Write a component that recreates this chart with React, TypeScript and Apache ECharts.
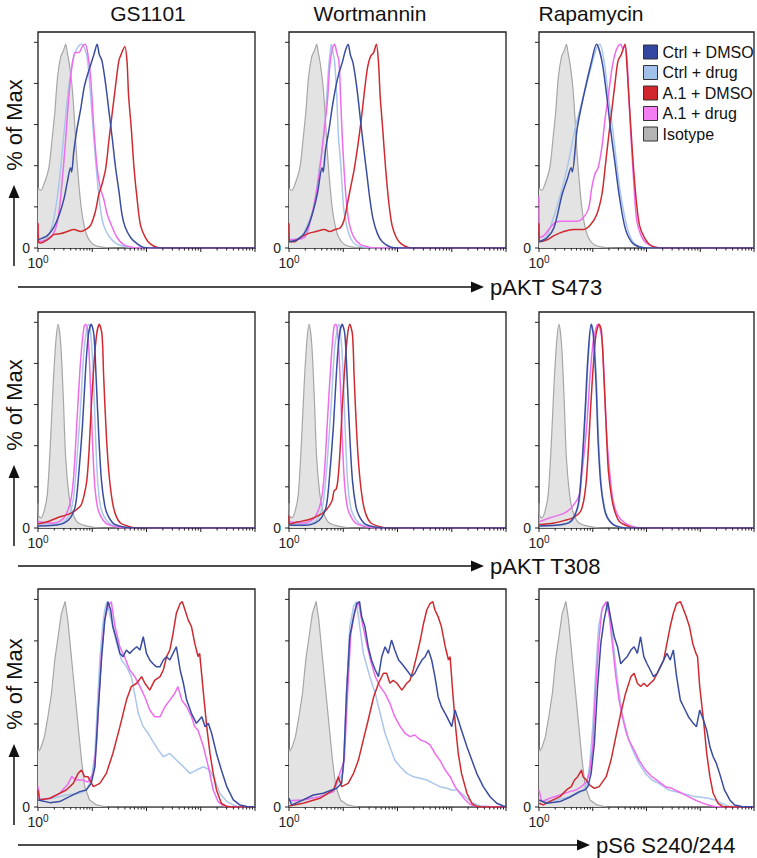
import React, { useEffect, useRef } from 'react';
import * as echarts from 'echarts';

// ---------- labels ----------
const COLUMN_TITLES = ['GS1101', 'Wortmannin', 'Rapamycin'];
const ROW_MARKERS = ['pAKT S473', 'pAKT T308', 'pS6 S240/244'];
const Y_AXIS_TITLE = '% of Max';
const LEGEND_ORDER = ['Ctrl + DMSO', 'Ctrl + drug', 'A.1 + DMSO', 'A.1 + drug', 'Isotype'];
const X_MAJOR_TICKS = [0, 1, 2, 3, 4]; // log10 decades, 10^0 .. 10^4
const Y_TICKS = [0, 20, 40, 60, 80, 100];

// ---------- data: [log10 fluorescence, % of max] ----------
// Row 1: pAKT S473
const S473_ISO = [[0,29],[0.05,28],[0.11,31],[0.2,39],[0.26,53],[0.31,66],[0.36,83],[0.42,93],[0.47,96],[0.51,99],[0.54,95],[0.58,89],[0.63,78],[0.67,63],[0.72,42],[0.79,21],[0.85,11],[0.92,5],[1.03,1.6],[1.21,0.3],[1.46,0],[4,0]];
const S473_GS_CTRL_DMSO = [[0,4],[0.17,6],[0.29,10],[0.39,16],[0.48,24],[0.54,32],[0.6,39],[0.62,37],[0.66,47],[0.72,58],[0.79,68],[0.85,78],[0.91,84],[0.97,89],[1.03,94],[1.09,99],[1.13,94],[1.18,91],[1.25,79],[1.31,66],[1.37,53],[1.43,39],[1.49,28],[1.55,16],[1.61,10],[1.71,5],[1.83,2],[1.95,0.3],[2.2,0],[4,0]];
const S473_GS_CTRL_DRUG = [[0,3],[0.17,5],[0.29,14],[0.39,32],[0.48,56],[0.54,72],[0.6,85],[0.66,93],[0.72,97],[0.8,99],[0.86,97],[0.91,92],[0.97,74],[1.03,53],[1.09,34],[1.15,19],[1.21,11],[1.31,5.7],[1.43,2.4],[1.58,0.8],[1.8,0.1],[4,0]];
const S473_GS_A1_DRUG = [[0,12],[0.02,3],[0.23,5],[0.36,13],[0.45,34],[0.51,53],[0.57,74],[0.63,89],[0.69,95],[0.75,95],[0.82,98],[0.87,99],[0.92,94],[0.97,83],[1.03,58],[1.09,39],[1.15,29],[1.21,24],[1.28,16],[1.37,10],[1.46,5],[1.58,1.6],[1.75,0.3],[2,0],[4,0]];
const S473_GS_A1_DMSO = [[0,12],[0.01,3],[0.05,2.4],[0.17,4],[0.29,6.5],[0.42,7],[0.54,8],[0.66,9],[0.79,8],[0.88,9],[0.97,11],[1.06,18],[1.12,26],[1.18,31],[1.25,39],[1.31,53],[1.37,66],[1.43,79],[1.49,91],[1.53,94],[1.6,98],[1.64,91],[1.67,74],[1.72,58],[1.77,39],[1.83,23],[1.89,11],[1.98,5],[2.07,2],[2.2,0.3],[2.4,0],[4,0]];
const S473_WO_CTRL_DMSO = [[0,3],[0.15,4],[0.28,7],[0.4,14],[0.52,26],[0.61,39],[0.63,37],[0.67,47],[0.74,58],[0.8,69],[0.86,78],[0.92,85],[0.98,90],[1.04,96],[1.09,99],[1.13,94],[1.18,90],[1.25,78],[1.31,64],[1.37,50],[1.43,37],[1.49,24],[1.55,14],[1.63,7],[1.72,3],[1.87,0.5],[2.1,0],[4,0]];
const S473_WO_CTRL_DRUG = [[0,4],[0.21,5],[0.37,13],[0.46,20],[0.55,37],[0.61,48],[0.67,64],[0.72,84],[0.75,93],[0.78,99],[0.81,95],[0.84,91],[0.88,74],[0.91,55],[0.95,42],[1.01,19],[1.07,10],[1.13,5],[1.23,1.6],[1.38,0.3],[1.6,0],[4,0]];
const S473_WO_A1_DRUG = [[0,4],[0.28,5],[0.4,14],[0.49,25],[0.57,39],[0.64,55],[0.71,72],[0.75,88],[0.8,97],[0.84,99],[0.88,95],[0.92,91],[0.95,74],[0.98,55],[1.02,36],[1.06,22],[1.11,12],[1.2,5],[1.32,1.6],[1.5,0.3],[1.7,0],[4,0]];
const S473_WO_A1_DMSO = [[0,12],[0.01,3],[0.1,3],[0.2,5],[0.35,7],[0.5,8],[0.65,9],[0.75,8],[0.85,9],[0.95,10],[1.02,14],[1.08,22],[1.14,30],[1.2,38],[1.27,50],[1.33,62],[1.39,76],[1.45,88],[1.5,93],[1.56,95],[1.61,99],[1.65,90],[1.68,74],[1.73,57],[1.78,39],[1.84,22],[1.9,11],[1.98,5],[2.07,2],[2.2,0.3],[2.4,0],[4,0]];
const S473_RA_CTRL_DMSO = [[0,3],[0.15,5],[0.28,10],[0.43,26],[0.52,33],[0.6,39],[0.62,37],[0.71,58],[0.83,74],[0.98,91],[1.07,99],[1.17,91],[1.26,74],[1.33,58],[1.41,42],[1.49,26],[1.6,10],[1.72,3],[1.87,0.5],[2.1,0],[4,0]];
const S473_RA_CTRL_DRUG = [[0,3],[0.12,5],[0.21,10],[0.4,26],[0.55,42],[0.67,58],[0.83,74],[1,91],[1.07,97],[1.13,99],[1.21,91],[1.29,74],[1.37,58],[1.44,42],[1.52,26],[1.64,10],[1.75,3],[1.9,0.5],[2.1,0],[4,0]];
const S473_RA_A1_DRUG = [[0,25],[0.01,5],[0.09,6],[0.28,12],[0.4,13],[0.52,13],[0.71,13],[0.83,15],[0.92,19],[0.98,29],[1.04,36],[1.1,39],[1.17,49],[1.23,63],[1.29,74],[1.35,86],[1.41,94],[1.47,98],[1.52,99],[1.56,97],[1.6,98],[1.64,91],[1.67,74],[1.72,50],[1.77,29],[1.82,13],[1.9,6],[1.99,2.4],[2.12,0.8],[2.3,0],[4,0]];
const S473_RA_A1_DMSO = [[0,12],[0.01,3],[0.15,4],[0.28,6],[0.46,8],[0.64,9],[0.83,9],[0.95,11],[1.07,16],[1.17,26],[1.23,39],[1.29,53],[1.35,66],[1.41,79],[1.47,91],[1.53,94],[1.6,99],[1.63,91],[1.69,66],[1.75,42],[1.81,23],[1.87,11],[1.96,5],[2.06,1.6],[2.18,0.3],[2.4,0],[4,0]];

// Row 2: pAKT T308
const T308_ISO = [[0,12],[0.01,6],[0.05,5],[0.11,8],[0.17,16],[0.23,42],[0.28,70],[0.33,91],[0.37,99],[0.42,89],[0.47,61],[0.51,34],[0.57,16],[0.63,8],[0.72,3],[0.85,1.3],[1.03,0.3],[1.2,0],[4,0]];
const T308_GS_CTRL_DMSO = [[0,1],[0.29,1.3],[0.48,2.4],[0.6,5],[0.69,11],[0.75,26],[0.82,50],[0.88,78],[0.93,94],[0.98,99],[1.03,94],[1.07,74],[1.12,45],[1.17,23],[1.23,11],[1.29,6],[1.4,2],[1.58,0.5],[1.8,0],[4,0]];
const T308_GS_CTRL_DRUG = [[0,2],[0.3,2],[0.48,3],[0.6,8],[0.66,16],[0.72,34],[0.79,61],[0.85,87],[0.91,98],[0.94,99],[0.98,92],[1.02,74],[1.06,45],[1.1,23],[1.15,11],[1.21,6],[1.31,2.4],[1.46,0.8],[1.7,0],[4,0]];
const T308_GS_A1_DRUG = [[0,3],[0.29,2.4],[0.48,5],[0.6,13],[0.66,26],[0.72,53],[0.79,83],[0.85,98],[0.88,99],[0.92,94],[0.96,74],[1,45],[1.04,23],[1.09,11],[1.15,6],[1.25,2.4],[1.4,0.8],[1.6,0],[4,0]];
const T308_GS_A1_DMSO = [[0,2],[0.17,3],[0.36,5],[0.54,6.5],[0.66,8],[0.79,11],[0.85,16],[0.9,23],[0.94,37],[0.98,58],[1.03,79],[1.08,94],[1.13,99],[1.18,94],[1.21,74],[1.26,45],[1.31,26],[1.37,13],[1.43,6.5],[1.52,2.4],[1.67,0.8],[1.83,0],[4,0]];
const T308_WO_CTRL_DMSO = [[0,1.5],[0.29,1.3],[0.48,2.4],[0.6,5],[0.69,11],[0.75,26],[0.82,50],[0.88,78],[0.93,94],[0.98,99],[1.03,94],[1.07,74],[1.12,45],[1.17,23],[1.23,11],[1.29,6],[1.4,2],[1.58,0.5],[1.8,0],[4,0]];
const T308_WO_CTRL_DRUG = [[0,2],[0.3,2],[0.47,3],[0.59,8],[0.65,16],[0.71,34],[0.78,61],[0.84,87],[0.9,98],[0.92,99],[0.96,92],[1,74],[1.04,45],[1.08,23],[1.13,11],[1.19,6],[1.29,2.4],[1.44,0.8],[1.7,0],[4,0]];
const T308_WO_A1_DRUG = [[0,3],[0.28,2.4],[0.47,5],[0.59,13],[0.65,26],[0.71,53],[0.78,83],[0.83,98],[0.86,99],[0.9,94],[0.94,74],[0.98,45],[1.02,23],[1.07,11],[1.13,6],[1.23,2.4],[1.38,0.8],[1.6,0],[4,0]];
const T308_WO_A1_DMSO = [[0,6],[0.01,2],[0.17,3],[0.36,4],[0.54,6],[0.66,8],[0.79,13],[0.83,18],[0.87,19],[0.9,23],[0.94,37],[0.98,58],[1.03,79],[1.08,94],[1.12,99],[1.17,94],[1.2,74],[1.25,45],[1.3,26],[1.36,13],[1.42,6.5],[1.51,2.4],[1.66,0.8],[1.83,0],[4,0]];
const T308_RA_CTRL_DMSO = [[0,1],[0.4,1.6],[0.58,3],[0.67,6.5],[0.74,13],[0.8,31],[0.86,58],[0.91,83],[0.97,99],[1.01,94],[1.06,71],[1.1,42],[1.15,21],[1.21,10],[1.27,5],[1.38,1.6],[1.53,0.3],[1.7,0],[4,0]];
const T308_RA_CTRL_DRUG = [[0,1],[0.4,1.6],[0.59,3],[0.68,6.5],[0.75,13],[0.81,31],[0.87,58],[0.92,83],[0.98,99],[1.02,94],[1.07,71],[1.11,42],[1.16,21],[1.22,10],[1.28,5],[1.39,1.6],[1.54,0.3],[1.7,0],[4,0]];
const T308_RA_A1_DRUG = [[0,3],[0.21,5],[0.4,6.5],[0.52,8],[0.64,11],[0.75,16],[0.78,23],[0.83,34],[0.89,50],[0.95,74],[1.01,91],[1.07,98],[1.1,99],[1.17,92],[1.21,74],[1.26,45],[1.32,26],[1.38,13],[1.47,6],[1.6,2.4],[1.81,0.3],[2,0],[4,0]];
const T308_RA_A1_DMSO = [[0,1.6],[0.28,2.4],[0.52,4],[0.64,5],[0.77,8],[0.83,13],[0.88,23],[0.92,39],[0.96,58],[1.01,79],[1.06,94],[1.12,99],[1.16,96],[1.2,78],[1.25,49],[1.29,28],[1.35,15],[1.41,8],[1.5,3],[1.66,0.8],[1.81,0],[4,0]];

// Row 3: pS6 S240/244
const S6_ISO = [[0,28],[0.02,27],[0.06,29],[0.12,34],[0.18,43],[0.25,55],[0.31,71],[0.37,82],[0.43,93],[0.5,99],[0.55,90],[0.62,71],[0.68,55],[0.74,39],[0.8,23],[0.86,10],[0.95,3.4],[1.08,1],[1.26,0],[4,0]];
const S6_GS_CTRL_DMSO = [[0,3.4],[0.22,2.1],[0.4,2.6],[0.58,5],[0.77,7.4],[0.89,8.2],[0.98,11.4],[1.05,19.4],[1.11,46.7],[1.17,70.8],[1.23,90],[1.29,98.9],[1.34,94.9],[1.38,86.8],[1.45,80.4],[1.51,74],[1.57,72.4],[1.63,75.6],[1.69,74],[1.75,75.6],[1.82,77.2],[1.88,75.6],[1.94,82],[2,74],[2.06,70.8],[2.12,69],[2.18,67.6],[2.25,67.6],[2.31,70.8],[2.37,72.4],[2.43,70.8],[2.49,74],[2.55,77.2],[2.62,66],[2.68,59.6],[2.74,51.5],[2.83,45],[2.92,40.3],[3.02,43.5],[3.08,38.7],[3.14,40.3],[3.2,35.5],[3.29,25.8],[3.38,17.8],[3.48,9.8],[3.6,3.4],[3.72,1],[3.85,0.2],[4,0]];
const S6_GS_CTRL_DRUG = [[0,4],[0.22,4],[0.52,5.8],[0.77,6.6],[0.89,8.2],[0.98,13],[1.05,25.8],[1.09,46.7],[1.14,70.8],[1.19,86.8],[1.23,94.9],[1.27,98.9],[1.32,93.3],[1.38,86.8],[1.45,78.8],[1.54,70.8],[1.63,67.6],[1.72,62.8],[1.78,54.7],[1.85,45],[1.94,38.7],[2.03,35.5],[2.12,31.5],[2.22,27.4],[2.31,24.2],[2.43,25.8],[2.55,22.6],[2.68,19.4],[2.8,16.2],[2.92,17.8],[3.05,19.4],[3.17,17.8],[3.26,13],[3.35,6.6],[3.48,2.6],[3.6,1],[3.72,0],[4,0]];
const S6_GS_A1_DRUG = [[0,10],[0.03,3.4],[0.22,4.2],[0.4,6.6],[0.55,11],[0.62,14.6],[0.71,13],[0.83,13],[0.92,12],[1.02,16.2],[1.08,30.7],[1.13,54.7],[1.17,74],[1.23,90],[1.29,96.5],[1.35,98.9],[1.42,86.8],[1.51,77],[1.6,72],[1.69,66],[1.78,63],[1.88,58],[1.97,53],[2.06,46.7],[2.15,43.5],[2.25,43.5],[2.34,48.3],[2.43,51.5],[2.52,54.7],[2.58,58],[2.65,51.5],[2.74,48.3],[2.83,43.5],[2.89,38.7],[2.95,37],[3.05,29],[3.14,19.4],[3.23,8.2],[3.32,2.6],[3.42,0.5],[3.6,0],[4,0]];
const S6_GS_A1_DMSO = [[0,8.2],[0.03,3.4],[0.22,4.2],[0.4,6.6],[0.52,8.2],[0.65,11.4],[0.74,16.2],[0.8,17.8],[0.86,14.6],[0.92,14.6],[1.02,9.8],[1.14,11.4],[1.26,16.2],[1.38,25.8],[1.51,38.7],[1.63,51.5],[1.72,58],[1.82,59.6],[1.91,62.8],[1.97,59.6],[2.06,56.3],[2.15,61],[2.25,62.8],[2.31,66],[2.37,72.4],[2.43,75.6],[2.49,83.6],[2.55,93.3],[2.62,98],[2.66,98.9],[2.71,94.9],[2.77,90],[2.83,86.8],[2.89,78.8],[2.95,72.4],[2.98,74],[3.05,54.7],[3.11,38.7],[3.17,25.8],[3.23,16.2],[3.29,8.2],[3.38,1.8],[3.48,0.2],[3.6,0],[4,0]];
const S6_WO_CTRL_DMSO = [[0,4.2],[0.05,1],[0.26,3.4],[0.45,5.8],[0.63,6.6],[0.79,8.2],[0.88,9],[0.97,11.4],[1.01,22.6],[1.06,54.7],[1.12,82],[1.19,91.6],[1.25,98],[1.3,98.9],[1.34,91.6],[1.4,86.8],[1.46,77.2],[1.52,70.8],[1.59,66],[1.65,62.8],[1.71,72.4],[1.77,77.2],[1.83,74],[1.89,80.4],[1.95,75.6],[2.02,70.8],[2.08,69],[2.17,66],[2.26,62.8],[2.32,64.4],[2.38,67.6],[2.45,70.8],[2.51,72.4],[2.57,75.6],[2.63,70.8],[2.69,62.8],[2.75,53],[2.81,48.3],[2.91,43.5],[3,38.7],[3.06,46.7],[3.12,41.9],[3.18,37],[3.28,29],[3.37,22.6],[3.46,16.2],[3.58,9.8],[3.71,4.8],[3.83,1.8],[3.95,0.5],[4,0.2]];
const S6_WO_CTRL_DRUG = [[0,3],[0.26,3.4],[0.57,5],[0.82,7.4],[1,17],[1.01,22.6],[1.06,54.7],[1.12,86.8],[1.19,96.5],[1.24,98.9],[1.28,91.6],[1.37,74],[1.49,62.8],[1.59,54.7],[1.65,48.3],[1.71,41.9],[1.77,35.5],[1.86,29],[1.95,22.6],[2.05,19.4],[2.17,16.2],[2.29,14.6],[2.42,13.8],[2.54,13],[2.66,11.4],[2.78,9.8],[2.91,9],[3,8.2],[3.09,8.2],[3.18,6.6],[3.28,4.2],[3.4,1.8],[3.52,0.5],[3.71,0.2],[4,0]];
const S6_WO_A1_DRUG = [[0,3],[0.26,3.4],[0.57,5],[0.82,7.4],[1.02,22.6],[1.08,54.7],[1.14,83.6],[1.22,95],[1.28,98.9],[1.34,90],[1.43,78.8],[1.52,69],[1.59,62.8],[1.68,58],[1.77,54.7],[1.86,49.9],[1.95,43.5],[2.05,38.7],[2.14,35.5],[2.23,33.9],[2.32,34.7],[2.42,32.3],[2.51,31.5],[2.6,29.9],[2.69,25.8],[2.78,22.6],[2.88,17.8],[2.97,14.6],[3.06,9.8],[3.15,6.6],[3.25,3.4],[3.34,1.3],[3.46,0.2],[4,0]];
const S6_WO_A1_DMSO = [[0,0.5],[0.26,1.8],[0.57,4.2],[0.82,8.2],[0.91,14.6],[0.97,9.8],[1.09,11.4],[1.19,16.2],[1.28,22.6],[1.37,32.3],[1.46,41.9],[1.56,53],[1.65,59.6],[1.74,64.4],[1.8,64.4],[1.86,59.6],[1.92,61],[1.99,59.6],[2.08,56.3],[2.17,59.6],[2.23,61],[2.29,66],[2.35,72.4],[2.42,80.4],[2.48,88.4],[2.54,94.9],[2.6,98],[2.65,98.9],[2.69,94.9],[2.75,91.6],[2.81,86.8],[2.88,77.2],[2.94,70.8],[2.97,72.4],[3.02,54.7],[3.07,38.7],[3.12,25.8],[3.18,16.2],[3.28,6.6],[3.37,1.8],[3.46,0.2],[3.6,0],[4,0]];
const S6_RA_CTRL_DMSO = [[0,3.4],[0.14,1.8],[0.39,2.6],[0.57,4.7],[0.75,7.4],[0.85,8.2],[0.91,9.8],[0.97,16.2],[1.03,30.7],[1.09,58],[1.15,78.8],[1.21,90],[1.28,98.9],[1.34,90],[1.4,82],[1.46,77.2],[1.52,69],[1.58,70.8],[1.64,72.4],[1.71,75.6],[1.77,77.2],[1.83,74],[1.89,82],[1.95,72.4],[2.01,69],[2.07,66],[2.13,62.8],[2.2,64.4],[2.26,67.6],[2.32,70.8],[2.38,74],[2.44,70.8],[2.5,75.6],[2.56,62.8],[2.63,51.5],[2.69,48.3],[2.78,43.5],[2.87,40.3],[2.93,38.7],[2.99,46.7],[3.06,41.9],[3.12,37],[3.18,29],[3.24,24.2],[3.3,21],[3.36,16.2],[3.45,8.2],[3.55,3.4],[3.64,1],[3.77,0.2],[4,0]];
const S6_RA_CTRL_DRUG = [[0,3.4],[0.08,2.6],[0.33,3.4],[0.57,5],[0.75,6.6],[0.88,9.8],[0.94,19.4],[1,38.7],[1.05,62.8],[1.11,87],[1.18,96.5],[1.26,98.9],[1.31,93.3],[1.37,82],[1.43,67.6],[1.49,54.7],[1.55,45],[1.61,38.7],[1.67,32.3],[1.77,25.8],[1.86,21],[1.98,16.2],[2.1,13],[2.23,11.4],[2.32,9.8],[2.41,8.2],[2.53,7.4],[2.66,6.6],[2.78,5.8],[2.9,5],[3.02,4.7],[3.15,4.2],[3.27,3.4],[3.39,1.8],[3.52,0.5],[3.77,0.2],[4,0]];
const S6_RA_A1_DRUG = [[0,8.2],[0.05,2.6],[0.2,4.2],[0.39,5.8],[0.57,7.4],[0.69,8.2],[0.79,9.8],[0.88,12.2],[0.94,16.2],[1,29],[1.05,54.7],[1.11,78.8],[1.17,94.9],[1.25,98.9],[1.31,91.6],[1.37,77.2],[1.43,62.8],[1.49,51.5],[1.55,43.5],[1.61,37],[1.67,32.3],[1.77,27.4],[1.86,22.6],[1.98,17.8],[2.1,14.6],[2.23,12.2],[2.35,9.8],[2.47,9],[2.53,8.2],[2.66,6.6],[2.78,5],[2.9,3.4],[3.02,2.1],[3.15,1],[3.27,0.2],[3.5,0],[4,0]];
const S6_RA_A1_DMSO = [[0,1.8],[0.08,1],[0.26,3.4],[0.39,5],[0.51,8.2],[0.6,9.8],[0.66,13],[0.72,14.6],[0.79,17.8],[0.82,14.6],[0.88,13],[0.94,10.6],[1.03,9],[1.12,9.8],[1.25,14.6],[1.34,22.6],[1.43,33.9],[1.52,45],[1.61,54.7],[1.71,62.8],[1.77,64.4],[1.83,59.6],[1.89,58],[1.95,59.6],[2.01,58],[2.07,59.6],[2.13,61],[2.2,64.4],[2.26,67.6],[2.32,70.8],[2.38,78.8],[2.44,86.8],[2.5,93.3],[2.56,98],[2.63,98.9],[2.67,96.5],[2.74,91.6],[2.8,86.8],[2.86,78.8],[2.92,74],[2.95,72.4],[2.99,58],[3.06,41.9],[3.12,25.8],[3.18,14.6],[3.24,6.6],[3.33,1.8],[3.42,0.2],[3.6,0],[4,0]];

// panels (row-major), built from the arrays above
const PANELS = [
  { iso: S473_ISO, ctrlDrug: S473_GS_CTRL_DRUG, a1Drug: S473_GS_A1_DRUG, a1Dmso: S473_GS_A1_DMSO, ctrlDmso: S473_GS_CTRL_DMSO },
  { iso: S473_ISO, ctrlDrug: S473_WO_CTRL_DRUG, a1Drug: S473_WO_A1_DRUG, a1Dmso: S473_WO_A1_DMSO, ctrlDmso: S473_WO_CTRL_DMSO },
  { iso: S473_ISO, ctrlDrug: S473_RA_CTRL_DRUG, a1Drug: S473_RA_A1_DRUG, a1Dmso: S473_RA_A1_DMSO, ctrlDmso: S473_RA_CTRL_DMSO },
  { iso: T308_ISO, ctrlDrug: T308_GS_CTRL_DRUG, a1Drug: T308_GS_A1_DRUG, a1Dmso: T308_GS_A1_DMSO, ctrlDmso: T308_GS_CTRL_DMSO },
  { iso: T308_ISO, ctrlDrug: T308_WO_CTRL_DRUG, a1Drug: T308_WO_A1_DRUG, a1Dmso: T308_WO_A1_DMSO, ctrlDmso: T308_WO_CTRL_DMSO },
  { iso: T308_ISO, ctrlDrug: T308_RA_CTRL_DRUG, a1Drug: T308_RA_A1_DRUG, a1Dmso: T308_RA_A1_DMSO, ctrlDmso: T308_RA_CTRL_DMSO },
  { iso: S6_ISO, ctrlDrug: S6_GS_CTRL_DRUG, a1Drug: S6_GS_A1_DRUG, a1Dmso: S6_GS_A1_DMSO, ctrlDmso: S6_GS_CTRL_DMSO },
  { iso: S6_ISO, ctrlDrug: S6_WO_CTRL_DRUG, a1Drug: S6_WO_A1_DRUG, a1Dmso: S6_WO_A1_DMSO, ctrlDmso: S6_WO_CTRL_DMSO },
  { iso: S6_ISO, ctrlDrug: S6_RA_CTRL_DRUG, a1Drug: S6_RA_A1_DRUG, a1Dmso: S6_RA_A1_DMSO, ctrlDmso: S6_RA_CTRL_DMSO },
];

// ---------- styling / layout ----------
const FONT = '"Liberation Sans", Arial, Helvetica, sans-serif';
const SERIES_DEFS = [
  { key: 'iso', name: 'Isotype', line: '#a6a6a6', legend: '#b4b4b4', area: '#e3e3e3' },
  { key: 'ctrlDrug', name: 'Ctrl + drug', line: '#aac6ea', legend: '#a2c1ea' },
  { key: 'a1Drug', name: 'A.1 + drug', line: '#ee6cee', legend: '#f27ef2' },
  { key: 'a1Dmso', name: 'A.1 + DMSO', line: '#cf2a30', legend: '#d1272c' },
  { key: 'ctrlDmso', name: 'Ctrl + DMSO', line: '#3a4c9f', legend: '#3346a0' },
];
const GRID_LEFT = [38, 289, 539];
const GRID_TOP = [32, 312, 589];
const GRID_W = 217;
const GRID_H = [216, 216, 218];
const TITLE_X = [148, 370, 591];
const ROW_OFFSET = [0, 280, 559];

function buildOption() {
  const grid: any[] = [];
  const xAxis: any[] = [];
  const yAxis: any[] = [];
  const series: any[] = [];

  const tickData: number[][] = [];
  X_MAJOR_TICKS.forEach((v) => tickData.push([v, 0, 0]));
  for (let d = X_MAJOR_TICKS[0]; d < X_MAJOR_TICKS[X_MAJOR_TICKS.length - 1]; d++) {
    for (let k = 2; k <= 9; k++) tickData.push([d + Math.log10(k), 0, 1]);
  }
  Y_TICKS.forEach((v) => tickData.push([0, v, 2]));

  PANELS.forEach((p: any, i) => {
    const r = Math.floor(i / 3);
    const c = i % 3;
    grid.push({
      left: GRID_LEFT[c], top: GRID_TOP[r], width: GRID_W, height: GRID_H[r],
      show: true, borderColor: '#1e1e1e', borderWidth: 1.3, backgroundColor: 'rgba(0,0,0,0)',
    });
    xAxis.push({
      type: 'value', gridIndex: i, min: 0, max: 4, interval: 1,
      axisLine: { show: false }, axisTick: { show: false }, splitLine: { show: false },
      axisLabel: {
        margin: 6,
        formatter: (v: number) => (v === 0 ? '{a|10}{b|0}' : ''),
        rich: {
          a: { fontSize: 14, fontFamily: FONT, color: '#222', lineHeight: 16, verticalAlign: 'bottom' },
          b: { fontSize: 10, fontFamily: FONT, color: '#222', lineHeight: 10, verticalAlign: 'top' },
        },
      },
    });
    yAxis.push({
      type: 'value', gridIndex: i, min: 0, max: 105, interval: 20,
      axisLine: { show: false }, axisTick: { show: false }, splitLine: { show: false },
      axisLabel: {
        margin: 8, fontSize: 14, fontFamily: FONT, color: '#222',
        formatter: (v: number) => (v === 0 ? '0' : ''),
      },
    });
    SERIES_DEFS.forEach((d, j) => {
      const s: any = {
        type: 'line', name: d.name, xAxisIndex: i, yAxisIndex: i,
        data: p[d.key], symbol: 'none', showSymbol: false,
        smooth: r < 2 ? 0.3 : false,
        lineStyle: { color: d.line, width: 1.5 },
        itemStyle: { color: d.legend },
        z: 2 + j, silent: true,
      };
      if (d.area) {
        s.areaStyle = { color: d.area, opacity: 1 };
        s.lineStyle.width = 1.2;
      }
      series.push(s);
    });
    series.push({
      type: 'custom', xAxisIndex: i, yAxisIndex: i, silent: true, clip: false, z: 20,
      encode: { x: 0, y: 1 },
      data: tickData,
      renderItem: (params: any, api: any) => {
        const kind = api.value(2);
        const pt = api.coord([api.value(0), api.value(1)]);
        if (kind === 2) {
          return { type: 'line', shape: { x1: pt[0] - 4, y1: pt[1], x2: pt[0], y2: pt[1] }, style: { stroke: '#222', lineWidth: 1 } };
        }
        const len = kind === 0 ? 4 : 2.5;
        return { type: 'line', shape: { x1: pt[0], y1: pt[1], x2: pt[0], y2: pt[1] + len }, style: { stroke: '#222', lineWidth: 1 } };
      },
    });
  });

  const elements: any[] = [];
  COLUMN_TITLES.forEach((t, c) => {
    elements.push({
      type: 'text', x: TITLE_X[c], y: 13,
      style: { text: t, fontSize: 21, fontFamily: FONT, fill: '#111', align: 'center', verticalAlign: 'middle' },
    });
  });
  ROW_MARKERS.forEach((m, r) => {
    const off = ROW_OFFSET[r];
    // vertical "% of Max" label and arrow
    elements.push({
      type: 'text', x: 14, y: 125 + off, rotation: Math.PI / 2,
      style: { text: Y_AXIS_TITLE, fontSize: 22, fontFamily: FONT, fill: '#111', align: 'center', verticalAlign: 'middle' },
    });
    elements.push({ type: 'line', shape: { x1: 14, y1: 266 + off, x2: 14, y2: 195 + off }, style: { stroke: '#111', lineWidth: 1.5 } });
    elements.push({ type: 'polygon', shape: { points: [[8.5, 198 + off], [14, 185 + off], [19.5, 198 + off]] }, style: { fill: '#111' } });
    // horizontal marker arrow + label
    const hy = [287, 566, 845][r];
    const tip = r === 2 ? 590 : 484;
    elements.push({ type: 'line', shape: { x1: 18, y1: hy, x2: tip - 8, y2: hy }, style: { stroke: '#111', lineWidth: 1.5 } });
    elements.push({ type: 'polygon', shape: { points: [[tip - 13, hy - 5.5], [tip, hy], [tip - 13, hy + 5.5]] }, style: { fill: '#111' } });
    elements.push({
      type: 'text', x: tip + 6, y: hy,
      style: { text: m, fontSize: 22, fontFamily: FONT, fill: '#111', align: 'left', verticalAlign: 'middle' },
    });
  });

  return {
    animation: false,
    backgroundColor: '#ffffff',
    grid, xAxis, yAxis, series,
    legend: {
      orient: 'vertical', left: 638, top: 39, itemWidth: 14, itemHeight: 14, itemGap: 4.5,
      icon: 'rect', selectedMode: false,
      textStyle: { fontSize: 16, fontFamily: FONT, color: '#111' },
      data: LEGEND_ORDER.map((n) => {
        const d = SERIES_DEFS.find((s) => s.name === n)!;
        return { name: n, icon: 'rect', itemStyle: { color: d.legend, borderColor: '#333', borderWidth: 1 } };
      }),
    },
    graphic: { elements },
  };
}

export default function App() {
  const ref = useRef<HTMLDivElement>(null);
  useEffect(() => {
    document.body.style.margin = '0';
    if (!ref.current) return;
    const chart = echarts.init(ref.current, undefined, { renderer: 'svg' });
    chart.setOption(buildOption() as any);
    return () => chart.dispose();
  }, []);
  return <div ref={ref} style={{ width: 757, height: 858 }} />;
}
